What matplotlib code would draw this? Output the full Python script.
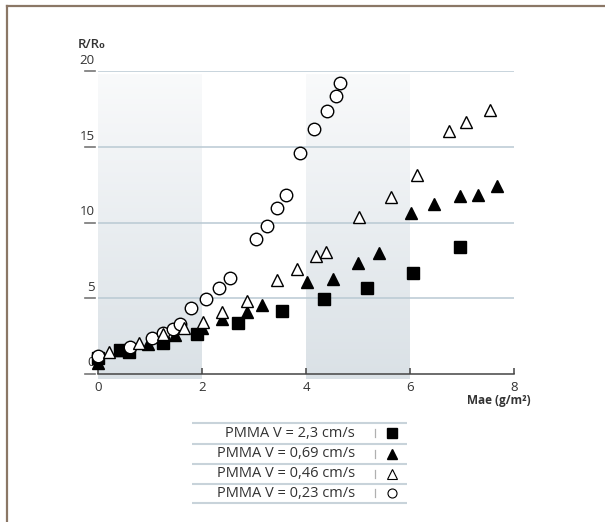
import numpy as np
import matplotlib
matplotlib.use("Agg")
import matplotlib.pyplot as plt
from matplotlib.colors import LinearSegmentedColormap
from matplotlib.lines import Line2D

plt.rcParams['font.family'] = ['Open Sans', 'DejaVu Sans']
plt.rcParams['mathtext.fontset'] = 'custom'
plt.rcParams['mathtext.rm'] = 'Open Sans'
plt.rcParams['mathtext.it'] = 'Open Sans'
plt.rcParams['mathtext.bf'] = 'Open Sans:bold'

# ---------------- data ----------------
sq_x = [0.00, 0.42, 0.60, 1.24, 1.89, 2.68, 3.53, 4.35, 5.18, 6.05, 6.97]
sq_y = [1.04, 1.59, 1.47, 2.07, 2.62, 3.39, 4.16, 4.96, 5.70, 6.70, 8.37]

ft_x = [0.00, 0.40, 0.96, 1.47, 1.99, 2.39, 2.87, 3.15, 4.01, 4.52, 4.99, 5.40, 6.01, 6.47, 6.97, 7.30, 7.68]
ft_y = [0.71, 1.59, 1.98, 2.58, 3.02, 3.62, 4.12, 4.56, 6.10, 6.26, 7.36, 7.98, 10.62, 11.24, 11.78, 11.83, 12.43]

ot_x = [0.21, 0.78, 1.25, 1.65, 2.02, 2.39, 2.87, 3.44, 3.82, 4.19, 4.38, 5.02, 5.64, 6.13, 6.75, 7.07, 7.54]
ot_y = [1.47, 2.03, 2.64, 3.02, 3.46, 4.08, 4.84, 6.21, 6.92, 7.80, 8.08, 10.36, 11.72, 13.15, 16.06, 16.68, 17.45]

oc_x = [0.00, 0.61, 1.03, 1.24, 1.44, 1.57, 1.78, 2.08, 2.33, 2.53, 3.03, 3.25, 3.44, 3.61, 3.88, 4.15, 4.41, 4.57, 4.65]
oc_y = [1.19, 1.80, 2.36, 2.73, 2.95, 3.30, 4.34, 4.94, 5.66, 6.37, 8.90, 9.78, 10.95, 11.83, 14.61, 16.19, 17.40, 18.37, 19.25]

x_ticks = [0, 2, 4, 6, 8]
y_ticks = [0, 5, 10, 15, 20]
bands = [(0, 2), (4, 6)]
legend_labels = ["PMMA V = 2,3 cm/s", "PMMA V = 0,69 cm/s",
                 "PMMA V = 0,46 cm/s", "PMMA V = 0,23 cm/s"]
x_label = "Mae (g/m²)"
y_label = "R/R₀"

# ---------------- figure ----------------
W, H = 605, 522
fig = plt.figure(figsize=(W / 100, H / 100), dpi=100)
fig.patch.set_facecolor('white')

# frame lines (top & left only)
fc = '#8b7766'
fig.add_artist(Line2D([7 / W, 1], [1 - 5.5 / H, 1 - 5.5 / H], color=fc, lw=1.6, transform=fig.transFigure))
fig.add_artist(Line2D([7 / W, 7 / W], [0, 1 - 5.5 / H], color=fc, lw=1.6, transform=fig.transFigure))

x0p, x8p = 98.3, 514.0
y0p, y20p = 374.0, 71.4
ax = fig.add_axes([x0p / W, 1 - y0p / H, (x8p - x0p) / W, (y0p - y20p) / H])
ax.set_xlim(0, 8)
ax.set_ylim(0, 20)
ax.patch.set_alpha(0)

txt = '#333333'

# gradient bands
cmap = LinearSegmentedColormap.from_list('band', ['#f9fafb', '#dae1e6'])
grad = np.linspace(0, 1, 256).reshape(-1, 1)
for a, b in bands:
    ax.imshow(grad, extent=(a, b, -0.35, 19.75), origin='upper', cmap=cmap,
              aspect='auto', zorder=0, clip_on=False)
ax.set_xlim(0, 8)
ax.set_ylim(0, 20)

# gridlines
for v in y_ticks[1:]:
    ax.plot([0, 8], [v, v], color='#b9c9d3', lw=1.1, zorder=1, solid_capstyle='butt')

# y tick marks and labels (manual)
for v in y_ticks:
    ax.plot([-0.25, -0.06], [v, v], color='#777777', lw=1.2, clip_on=False, zorder=2)
    ax.text(-0.07, v + 0.3, str(v), ha='right', va='bottom', fontsize=9.5, color=txt, clip_on=False)

ax.set_yticks([])
for s in ['left', 'right', 'top']:
    ax.spines[s].set_visible(False)
ax.spines['bottom'].set_color('#444444')
ax.spines['bottom'].set_linewidth(1.1)
ax.spines['bottom'].set_zorder(3)
ax.set_xticks(x_ticks)
ax.set_xticklabels([str(t) for t in x_ticks], fontsize=9.5, color=txt)
ax.tick_params(axis='x', direction='in', length=4, width=1.1, color='#444444', pad=5)

# labels
ax.text(-0.39, 21.75, y_label, ha='left', va='center', fontsize=9.5, fontweight='semibold', color=txt, clip_on=False)
ax.text(8.32, -1.75, x_label, ha='right', va='center', fontsize=8.5, fontweight='bold', color=txt, clip_on=False)

# data
ax.plot(sq_x, sq_y, ls='none', marker='s', ms=8.8, mfc='black', mec='black', zorder=4, clip_on=False)
ax.plot(ft_x, ft_y, ls='none', marker='^', ms=9.2, mfc='black', mec='black', zorder=5, clip_on=False)
ax.plot(oc_x, oc_y, ls='none', marker='o', ms=9, mfc='white', mec='black', mew=1.0, zorder=6, clip_on=False)
ax.plot(ot_x, ot_y, ls='none', marker='^', ms=9.2, mfc='white', mec='black', mew=1.0, zorder=7, clip_on=False)

# legend table
lax = fig.add_axes([0, 0, 1, 1])
lax.set_xlim(0, W)
lax.set_ylim(H, 0)
lax.axis('off')
lax.patch.set_alpha(0)
line_ys = [423, 443.5, 463.5, 483.5, 503]
for ly in line_ys:
    lax.plot([192, 407], [ly, ly], color='#c8d3da', lw=1.5, solid_capstyle='butt')
mk = [dict(marker='s', ms=6.5, mfc='black', mec='black'),
      dict(marker='^', ms=6.5, mfc='black', mec='black'),
      dict(marker='^', ms=6.5, mfc='white', mec='black', mew=0.8),
      dict(marker='o', ms=6.5, mfc='white', mec='black', mew=0.8)]
for i, lab in enumerate(legend_labels):
    cy = (line_ys[i] + line_ys[i + 1]) / 2
    lax.text(355, cy, lab, ha='right', va='center', fontsize=10.5, color=txt)
    lax.plot([375, 375], [cy - 4, cy + 4], color='#b0b0b0', lw=0.9)
    lax.plot([391.5], [cy], ls='none', **mk[i])

fig.savefig('out.png', dpi=100, facecolor='white')
